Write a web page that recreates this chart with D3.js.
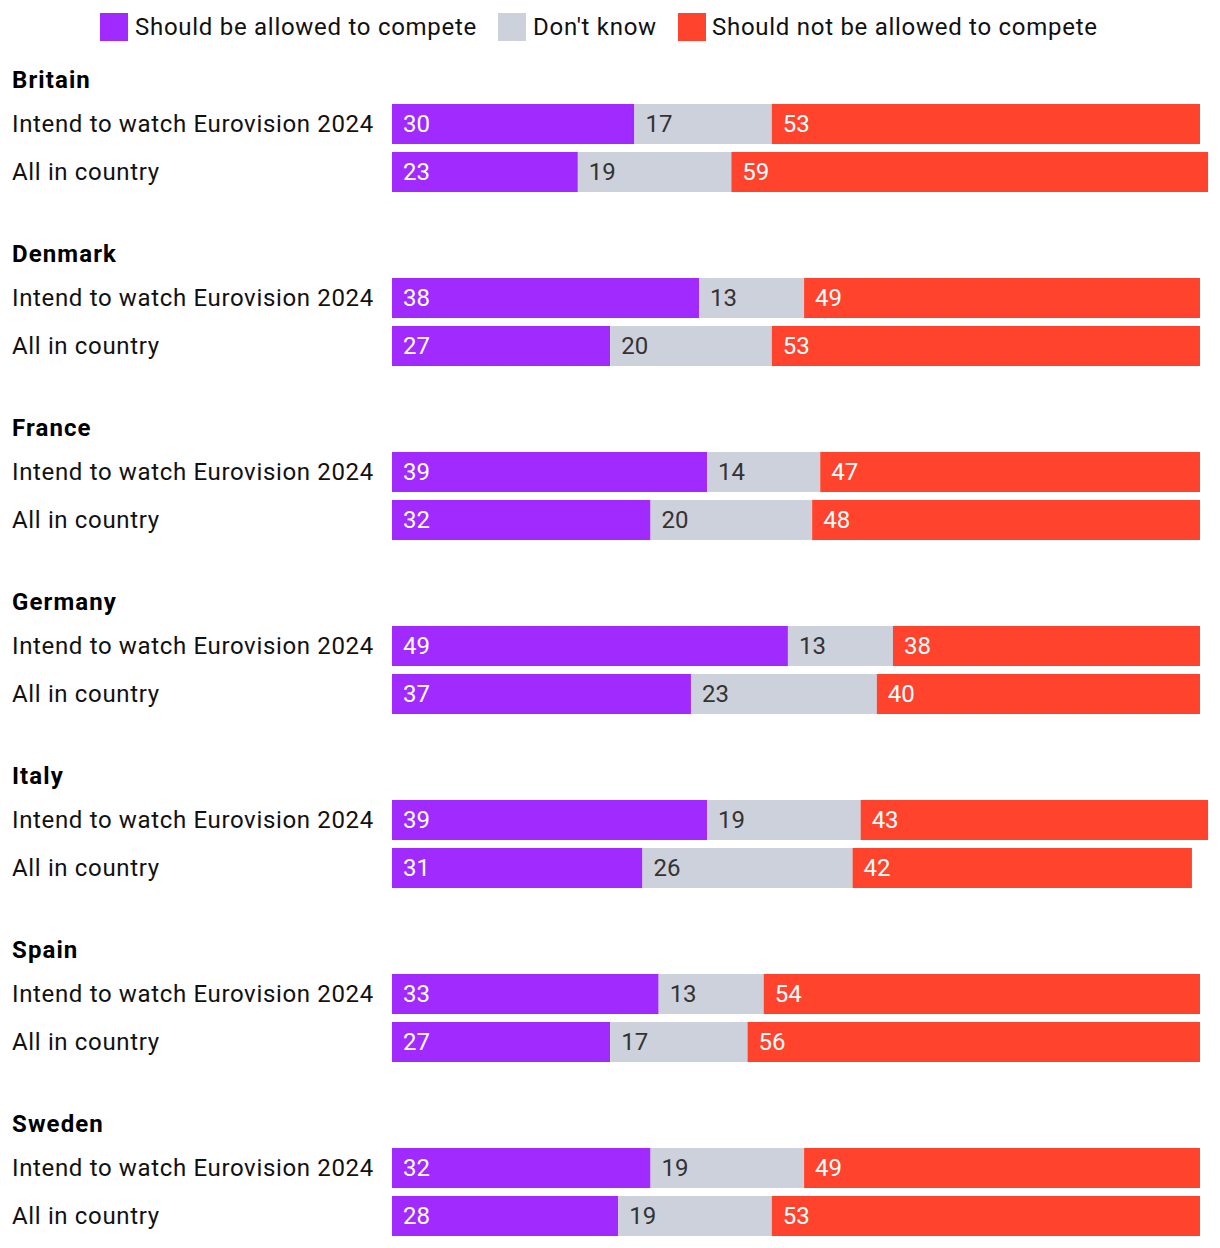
<!DOCTYPE html>
<html>
<head>
<meta charset="utf-8">
<script src="https://cdn.jsdelivr.net/npm/d3@7"></script>
<style>
  html, body { margin: 0; padding: 0; background: #fff; }
  svg { display: block; font-family: Roboto, "Noto Sans", sans-serif; }
</style>
</head>
<body>
<svg id="chart" width="1220" height="1248"></svg>
<script>
const countries = ["Britain", "Denmark", "France", "Germany", "Italy", "Spain", "Sweden"];
const rowLabels = ["Intend to watch Eurovision 2024", "All in country"];
const seriesNames = ["Should be allowed to compete", "Don't know", "Should not be allowed to compete"];
const seriesColors = ["#a12aff", "#cdd1dc", "#ff432d"];
const labelColors = ["#ffffff", "#333333", "#ffffff"];

// [country][row] values
const allowed  = [[30, 23], [38, 27], [39, 32], [49, 37], [39, 31], [33, 27], [32, 28]];
const dontKnow = [[17, 19], [13, 20], [14, 20], [13, 23], [19, 26], [13, 17], [19, 19]];
const notAllowed = [[53, 59], [49, 53], [47, 48], [38, 40], [43, 42], [54, 56], [49, 53]];

const svg = d3.select("#chart");
const x = d3.scaleLinear().domain([0, 100]).range([392, 1200]);
const groupY = d3.scaleBand().domain(countries).range([56, 56 + 174 * 7]).paddingInner(0);
const barH = 40;

// Legend
const legendItems = [
  {x: 100, tx: 135},
  {x: 498, tx: 533},
  {x: 678, tx: 712}
];
const legend = svg.append("g");
seriesNames.forEach((name, i) => {
  legend.append("rect").attr("x", legendItems[i].x).attr("y", 13).attr("width", 28).attr("height", 28)
    .attr("fill", seriesColors[i]);
  legend.append("text").attr("x", legendItems[i].tx).attr("y", 35).attr("font-size", 24)
    .attr("letter-spacing", 0.72).attr("fill", "#111").text(name);
});

countries.forEach((c, ci) => {
  const g = svg.append("g").attr("transform", `translate(0,${groupY(c)})`);
  g.append("text").attr("x", 12).attr("y", 32).attr("font-size", 24).attr("font-weight", 700)
    .attr("letter-spacing", 1.1).attr("fill", "#000").text(c);
  rowLabels.forEach((r, ri) => {
    const yTop = 48 + ri * 48;
    const vals = [allowed[ci][ri], dontKnow[ci][ri], notAllowed[ci][ri]];
    g.append("text").attr("x", 12).attr("y", yTop + 28).attr("font-size", 24)
      .attr("letter-spacing", 0.65).attr("fill", "#111").text(r);
    let cum = 0;
    vals.forEach((v, si) => {
      const x0 = x(cum), x1 = x(cum + v);
      g.append("rect").attr("x", x0).attr("y", yTop).attr("width", x1 - x0).attr("height", barH)
        .attr("fill", seriesColors[si]);
      g.append("text").attr("x", x0 + 11).attr("y", yTop + 28).attr("font-size", 24)
        .attr("fill", labelColors[si]).text(v);
      cum += v;
    });
  });
});
</script>
</body>
</html>
